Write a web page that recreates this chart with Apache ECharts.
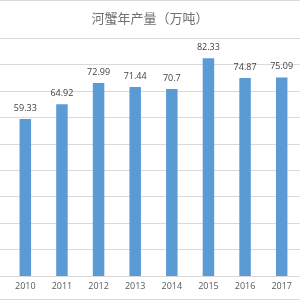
<!DOCTYPE html>
<html><head><meta charset="utf-8">
<script src="https://cdn.jsdelivr.net/npm/echarts@6/dist/echarts.min.js"></script>
<style>html,body{margin:0;padding:0;background:#fff}#c{width:300px;height:300px}</style>
</head><body><div id="c"></div>
<script>
var titleText = '河蟹年产量（万吨）';
var categories = ['2010','2011','2012','2013','2014','2015','2016','2017'];
var values = [59.33, 64.92, 72.99, 71.44, 70.7, 82.33, 74.87, 75.09];
var yMin = 0, yMax = 90, yStep = 10;

var chart = echarts.init(document.getElementById('c'));
chart.setOption({
  backgroundColor: '#fff',
  animation: false,
  title: {
    text: titleText, left: 'center', top: 7,
    textStyle: {fontFamily: 'Noto Sans CJK SC', fontSize: 13, fontWeight: 'normal', color: '#707070'}
  },
  graphic: [
    {type: 'rect', shape: {x: 0, y: 0, width: 300, height: 1}, style: {fill: '#d9d9d9'}},
    {type: 'rect', shape: {x: 0, y: 299, width: 300, height: 1}, style: {fill: '#d9d9d9'}}
  ],
  grid: [
    {left: 0, right: 0, top: 38, bottom: 24},
    {left: 7, width: 297.6, top: 38, bottom: 24}
  ],
  xAxis: [
    {gridIndex: 0, type: 'category', data: categories, show: false},
    {gridIndex: 1, type: 'category', data: categories,
     axisLine: {show: false}, axisTick: {show: false},
     axisLabel: {fontSize: 9, color: '#595959', margin: 6, fontFamily: 'Open Sans'}}
  ],
  yAxis: [
    {gridIndex: 0, type: 'value', min: yMin, max: yMax, interval: yStep,
     axisLabel: {show: false}, axisLine: {show: false}, axisTick: {show: false},
     splitLine: {show: true, lineStyle: {color: '#d9d9d9', width: 1}}},
    {gridIndex: 1, type: 'value', min: yMin, max: yMax, interval: yStep, show: false,
     splitLine: {show: false}}
  ],
  series: [{
    type: 'bar', xAxisIndex: 1, yAxisIndex: 1, data: values, barWidth: 11.5,
    itemStyle: {color: '#5b9bd5'},
    label: {show: true, position: 'top', distance: 6, fontSize: 9, color: '#404040', fontFamily: 'Open Sans'}
  }]
});
</script></body></html>
